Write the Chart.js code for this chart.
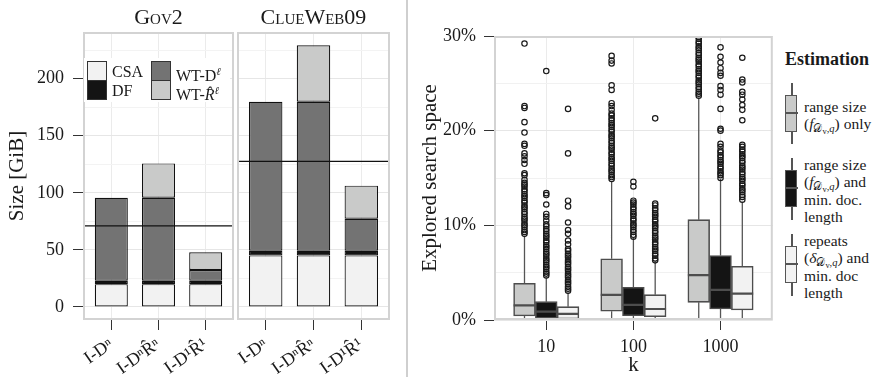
<!DOCTYPE html>
<html>
<head>
<meta charset="utf-8">
<script src="https://cdn.jsdelivr.net/npm/chart.js@4.4.0/dist/chart.umd.min.js"></script>
<style>
  body { margin: 0; background: #fff; width: 882px; height: 385px; overflow: hidden; font-family: "Liberation Serif", serif; color: #1a1a1a; }
  canvas { position: absolute; top: 0; }
  .strip { position: absolute; top: 4px; font-size: 22px; font-variant: small-caps; text-align: center; }
  .sep { position: absolute; left: 406px; top: 0; width: 2px; height: 377px; background: #cfcfcf; }
  .lg { position: absolute; font-size: 16px; line-height: 19px; white-space: nowrap; }
  .lgbox { position: absolute; left: 84px; top: 58px; width: 146px; height: 44px; background: #fff; }
  .sw { position: absolute; width: 18px; height: 18px; border: 1px solid #333; box-sizing: content-box; }
  .est { position: absolute; font-size: 15.5px; line-height: 17.3px; white-space: nowrap; }
  .est sub { font-size: 68%; vertical-align: -3px; line-height: 0; }
  .est sub sub { font-size: 80%; vertical-align: -2px; }
  .icon { position: absolute; width: 13px; }
  .icon .wh { position: absolute; left: 6px; width: 1.5px; background: #555; }
  .icon .bx { position: absolute; left: 0; width: 10px; border: 1.5px solid #555; }
  .icon .md { position: absolute; left: 0; width: 13px; height: 1.5px; background: #555; }
</style>
</head>
<body>
<canvas id="gov2" width="236" height="385" style="left:0"></canvas>
<canvas id="clue" width="156" height="385" style="left:236px"></canvas>
<canvas id="est" width="378" height="385" style="left:400px"></canvas>

<div class="strip" style="left:83px;width:151px">Gov2</div>
<div class="strip" style="left:237px;width:153px">ClueWeb09</div>

<div class="lgbox"></div>
<div class="sw" style="left:87px;top:61px;background:#f2f2f2"></div>
<div class="sw" style="left:87px;top:80px;background:#141414"></div>
<div class="lg" style="left:112px;top:62px">CSA</div>
<div class="lg" style="left:112px;top:81px">DF</div>
<div class="sw" style="left:151px;top:61px;background:#737373"></div>
<div class="sw" style="left:151px;top:80px;background:#c9cac9"></div>
<div class="lg" style="left:176px;top:62px">WT-D<sup style="font-size:65%;font-style:italic">ℓ</sup></div>
<div class="lg" style="left:176px;top:81px">WT-<i>R̂</i><sup style="font-size:65%;font-style:italic">ℓ</sup></div>

<div class="sep"></div>

<div class="est" style="left:785px;top:51px;font-weight:bold;font-size:18px">Estimation</div>

<div class="icon" style="left:785px;top:83px;height:61px">
  <div class="wh" style="top:0;height:61px"></div>
  <div class="bx" style="top:12px;height:35px;background:#c9cac9"></div>
  <div class="md" style="top:29px"></div>
</div>
<div class="est" style="left:804px;top:98px">range size<br>(<i>f</i><sub>𝒟<sub>v</sub>,<i>q</i></sub>) only</div>

<div class="icon" style="left:785px;top:158px;height:62px">
  <div class="wh" style="top:0;height:62px"></div>
  <div class="bx" style="top:12px;height:35px;background:#141414"></div>
  <div class="md" style="top:29px"></div>
</div>
<div class="est" style="left:804px;top:156px">range size<br>(<i>f</i><sub>𝒟<sub>v</sub>,<i>q</i></sub>) and<br>min. doc.<br>length</div>

<div class="icon" style="left:785px;top:234px;height:62px">
  <div class="wh" style="top:0;height:62px"></div>
  <div class="bx" style="top:12px;height:35px;background:#f2f2f2"></div>
  <div class="md" style="top:29px"></div>
</div>
<div class="est" style="left:804px;top:232px">repeats<br>(<i>δ</i><sub>𝒟<sub>v</sub>,<i>q</i></sub>) and<br>min. doc<br>length</div>

<script>
// index variants on the left
const sizeCats = ["I-Dⁿ", "I-DⁿR̂ⁿ", "I-D¹R̂¹"];

// sizes in GiB, stacked bottom to top
const gov2CSA = [20, 20, 20];
const gov2DF = [3, 3, 3];
const gov2WTD = [72.7, 72.7, 9.4];
const gov2WTR = [0, 30.1, 15.5];
const gov2Ref = 71;

const clueCSA = [45.2, 45.2, 45.2];
const clueDF = [4.1, 4.1, 4.1];
const clueWTD = [130.5, 130.5, 28];
const clueWTR = [0, 49.4, 29];
const clueRef = 127.6;

// boxplots, explored search space in %
const kLabels = ["10", "100", "1000"];

const rangeLo = [0, 0, 0];
const rangeQ1 = [0.42, 0.92, 1.87];
const rangeMed = [1.55, 2.65, 4.73];
const rangeQ3 = [3.88, 6.46, 10.6];
const rangeHi = [8.9, 14.6, 23.5];
const rangeOut = [
  [29.2, 22.6, 22.4, 20.9, 19.8, 18.6, 18.4, 17.6, 17.3, 16.9, 16.5, 15.5, 15.3, 14.8, 14.5, 14.3, 14.1, 13.8, 13.6, 13.3, 13.1, 12.9, 12.6, 12.4, 12.1, 11.9, 11.7, 11.4, 11.2, 10.9, 10.7, 10.5, 10.2, 10.0, 9.8, 9.5, 9.3, 9.1],
  [27.9, 27.4, 27.1, 24.8, 24.3, 22.9, 22.6, 22.2, 21.8, 21.6, 21.3, 21.1, 20.8, 20.6, 20.4, 20.1, 19.9, 19.6, 19.4, 19.2, 18.9, 18.7, 18.4, 18.2, 18.0, 17.7, 17.5, 17.2, 17.0, 16.8, 16.5, 16.3, 16.0, 15.8, 15.6, 15.3, 15.1, 14.9],
  [30.5, 30.2, 29.9, 29.7, 29.4, 29.2, 28.9, 28.7, 28.5, 28.2, 28.0, 27.7, 27.5, 27.3, 27.0, 26.8, 26.5, 26.3, 26.1, 25.8, 25.6, 25.3, 25.1, 24.9, 24.6, 24.4, 24.1, 23.9, 23.7]
];

const minLenLo = [0, 0, 0];
const minLenQ1 = [0.18, 0.46, 1.16];
const minLenMed = [0.88, 1.59, 3.18];
const minLenQ3 = [1.94, 3.46, 6.81];
const minLenHi = [4.5, 8.7, 14.9];
const minLenOut = [
  [26.3, 13.4, 13.2, 12.2, 11.2, 10.9, 10.5, 10.1, 9.9, 9.6, 9.4, 9.1, 8.9, 8.7, 8.4, 8.2, 7.9, 7.7, 7.5, 7.2, 7.0, 6.8, 6.5, 6.3, 6.1, 5.8, 5.6, 5.4, 5.1, 4.9, 4.7],
  [14.6, 14.1, 12.6, 12.4, 12.2, 11.9, 11.7, 11.4, 11.2, 11.0, 10.7, 10.5, 10.2, 10.0, 9.8, 9.5, 9.3, 9.0, 8.8],
  [28.8, 27.8, 27.2, 26.6, 26.1, 25.8, 24.7, 24.3, 23.8, 22.3, 20.2, 20.0, 18.6, 18.3, 17.9, 17.7, 17.4, 17.2, 16.9, 16.7, 16.5, 16.2, 16.0, 15.7, 15.5, 15.3, 15.0]
];

const repeatsLo = [0, 0, 0];
const repeatsQ1 = [0.1, 0.35, 1.06];
const repeatsMed = [0.64, 1.16, 2.79];
const repeatsQ3 = [1.41, 2.68, 5.68];
const repeatsHi = [2.9, 6.2, 12.5];
const repeatsOut = [
  [22.3, 17.6, 12.6, 12.0, 10.3, 9.5, 9.1, 8.4, 8.0, 7.5, 7.3, 7.0, 6.8, 6.6, 6.3, 6.1, 5.9, 5.6, 5.4, 5.2, 4.9, 4.7, 4.5, 4.2, 4.0, 3.8, 3.5, 3.3, 3.1],
  [21.3, 12.3, 12.1, 11.8, 11.6, 11.3, 11.1, 10.9, 10.6, 10.4, 10.1, 9.9, 9.7, 9.4, 9.2, 8.9, 8.7, 8.5, 8.2, 8.0, 7.7, 7.5, 7.3, 7.0, 6.8, 6.5, 6.3],
  [27.7, 25.4, 25.1, 24.1, 23.8, 23.3, 22.7, 22.2, 21.1, 18.5, 18.3, 18.0, 17.8, 17.5, 17.3, 17.1, 16.8, 16.6, 16.3, 16.1, 15.9, 15.6, 15.4, 15.1, 14.9, 14.7, 14.4, 14.2, 13.9, 13.7, 13.5, 13.2, 13.0, 12.7]
];

const FONT = "'Liberation Serif', serif";
const INK = "#1a1a1a";

// grey frame around each panel
const panelBorder = {
  id: "panelBorder",
  afterDatasetsDraw(chart) {
    const a = chart.chartArea;
    const c = chart.ctx;
    c.save();
    c.strokeStyle = "#d3d3d3";
    c.lineWidth = 2;
    c.strokeRect(a.left + 1, a.top + 1, a.right - a.left - 2, a.bottom - a.top - 2);
    c.restore();
  }
};

function barSet(vals, color, label) {
  return {
    type: "bar",
    label,
    data: vals.map((v, i) => ({ x: i + 1, y: v })),
    backgroundColor: color,
    borderColor: "#111",
    borderWidth: 1.2,
    borderSkipped: false,
    stack: "s",
    order: 2,
    barPercentage: 0.7,
    categoryPercentage: 1
  };
}

function makeBars(id, csa, df, wtd, wtr, ref, withAxis) {
  return new Chart(document.getElementById(id), {
    data: {
      datasets: [
        barSet(csa, "#f2f2f2", "CSA"),
        barSet(df, "#141414", "DF"),
        barSet(wtd, "#737373", "WT-D"),
        barSet(wtr, "#c9cac9", "WT-R"),
        {
          type: "line",
          data: [{ x: 0.4, y: ref }, { x: 3.6, y: ref }],
          borderColor: "#111",
          borderWidth: 1.3,
          pointRadius: 0,
          stack: "ref",
          order: 1
        }
      ]
    },
    options: {
      responsive: false,
      animation: false,
      layout: { padding: { top: 32, right: 2, left: withAxis ? 0 : 1, bottom: 0 } },
      plugins: { legend: { display: false }, tooltip: { enabled: false } },
      scales: {
        x: {
          type: "linear",
          min: 0.4,
          max: 3.6,
          offset: false,
          stacked: true,
          afterBuildTicks: s => { s.ticks = [1, 2, 3].map(v => ({ value: v })); },
          afterFit: s => { s.height = 65; s.paddingLeft = 0; s.paddingRight = 0; },
          ticks: {
            callback: v => sizeCats[v - 1],
            autoSkip: false,
            minRotation: 35,
            maxRotation: 35,
            padding: 4,
            color: INK,
            font: { family: FONT, size: 18 }
          },
          grid: { offset: false, color: "#ebebeb", tickColor: "#333", tickLength: 10, lineWidth: 1 },
          border: { display: false }
        },
        y: {
          type: "linear",
          min: -11.4,
          max: 240.9,
          stacked: true,
          afterBuildTicks: s => {
            const t = [];
            for (let v = 0; v <= 225; v += 25) t.push({ value: v });
            s.ticks = t;
          },
          afterFit: s => { s.width = withAxis ? 83 : 0; },
          ticks: {
            display: withAxis,
            callback: v => (v % 50 === 0 ? String(v) : ""),
            padding: 9,
            color: INK,
            font: { family: FONT, size: 18 }
          },
          grid: {
            color: c => (c.tick && c.tick.value % 50 === 0 ? "#e6e6e6" : "#f3f3f3"),
            tickColor: c => (c.tick && c.tick.value % 50 === 0 ? "#333" : "rgba(0,0,0,0)"),
            tickLength: 10,
            drawTicks: withAxis
          },
          border: { display: false },
          title: {
            display: withAxis,
            text: "Size [GiB]",
            color: INK,
            font: { family: FONT, size: 21 },
            padding: { top: 5, bottom: 0 }
          }
        }
      }
    },
    plugins: [panelBorder]
  });
}

makeBars("gov2", gov2CSA, gov2DF, gov2WTD, gov2WTR, gov2Ref, true);
makeBars("clue", clueCSA, clueDF, clueWTD, clueWTR, clueRef, false);

// boxplot pieces for the right chart
const methods = [
  { lo: rangeLo, q1: rangeQ1, med: rangeMed, q3: rangeQ3, hi: rangeHi, out: rangeOut, fill: "#c9cac9", off: -0.25 },
  { lo: minLenLo, q1: minLenQ1, med: minLenMed, q3: minLenQ3, hi: minLenHi, out: minLenOut, fill: "#141414", off: 0 },
  { lo: repeatsLo, q1: repeatsQ1, med: repeatsMed, q3: repeatsQ3, hi: repeatsHi, out: repeatsOut, fill: "#f2f2f2", off: 0.25 }
];

const whiskers = [];
const medians = [];
const points = [];
const boxSets = [];
methods.forEach(m => {
  const boxes = [];
  kLabels.forEach((k, g) => {
    const x = g + 1 + m.off;
    whiskers.push({ x, y: m.lo[g] }, { x, y: m.q1[g] }, { x, y: null });
    whiskers.push({ x, y: m.q3[g] }, { x, y: m.hi[g] }, { x, y: null });
    medians.push({ x: x - 0.125, y: m.med[g] }, { x: x + 0.125, y: m.med[g] }, { x, y: null });
    boxes.push({ x, y: [m.q1[g], m.q3[g]] });
    m.out[g].forEach(v => points.push({ x, y: v }));
  });
  boxSets.push({
    type: "bar",
    data: boxes,
    grouped: false,
    backgroundColor: m.fill,
    borderColor: "#4d4d4d",
    borderWidth: 1.6,
    borderSkipped: false,
    barPercentage: 1,
    categoryPercentage: 1,
    order: 3
  });
});

new Chart(document.getElementById("est"), {
  data: {
    datasets: [
      {
        type: "line",
        data: whiskers,
        borderColor: "#555",
        borderWidth: 1.3,
        pointRadius: 0,
        spanGaps: false,
        order: 4
      },
      ...boxSets,
      {
        type: "line",
        data: medians,
        borderColor: "#4d4d4d",
        borderWidth: 2.2,
        pointRadius: 0,
        spanGaps: false,
        order: 2
      },
      {
        type: "scatter",
        data: points,
        pointRadius: 2.7,
        pointBorderWidth: 1.2,
        borderColor: "#1a1a1a",
        backgroundColor: "rgba(0,0,0,0)",
        clip: 0,
        order: 1
      }
    ]
  },
  options: {
    responsive: false,
    animation: false,
    layout: { padding: { top: 36, right: 2, left: 0, bottom: 0 } },
    plugins: { legend: { display: false }, tooltip: { enabled: false } },
    scales: {
      x: {
        type: "linear",
        min: 0.4,
        max: 3.6,
        offset: false,
        afterBuildTicks: s => { s.ticks = [1, 2, 3].map(v => ({ value: v })); },
        afterFit: s => { s.height = 65; s.paddingLeft = 0; s.paddingRight = 0; },
        ticks: {
          callback: v => kLabels[v - 1],
          autoSkip: false,
          maxRotation: 0,
          padding: 6,
          color: INK,
          font: { family: FONT, size: 18 }
        },
        grid: { offset: false, color: "#ebebeb", tickColor: "#333", tickLength: 10 },
        border: { display: false },
        title: {
          display: true,
          text: "k",
          color: INK,
          font: { family: FONT, size: 21 },
          padding: { top: 0, bottom: 7 }
        }
      },
      y: {
        type: "linear",
        min: 0,
        max: 30,
        afterBuildTicks: s => {
          const t = [];
          for (let v = 0; v <= 30; v += 2.5) t.push({ value: v });
          s.ticks = t;
        },
        afterFit: s => { s.width = 94; },
        ticks: {
          callback: v => (v % 10 === 0 ? v + "%" : ""),
          padding: 8,
          color: INK,
          font: { family: FONT, size: 18 }
        },
        grid: {
          color: c => (c.tick && c.tick.value % 10 === 0 ? "#e6e6e6" : "#f1f1f1"),
          tickColor: c => (c.tick && c.tick.value % 10 === 0 ? "#333" : "rgba(0,0,0,0)"),
          tickLength: 10
        },
        border: { display: false },
        title: {
          display: true,
          text: "Explored search space",
          color: INK,
          font: { family: FONT, size: 21 },
          padding: { top: 18, bottom: 0 }
        }
      }
    }
  },
  plugins: [panelBorder]
});
</script>
</body>
</html>
